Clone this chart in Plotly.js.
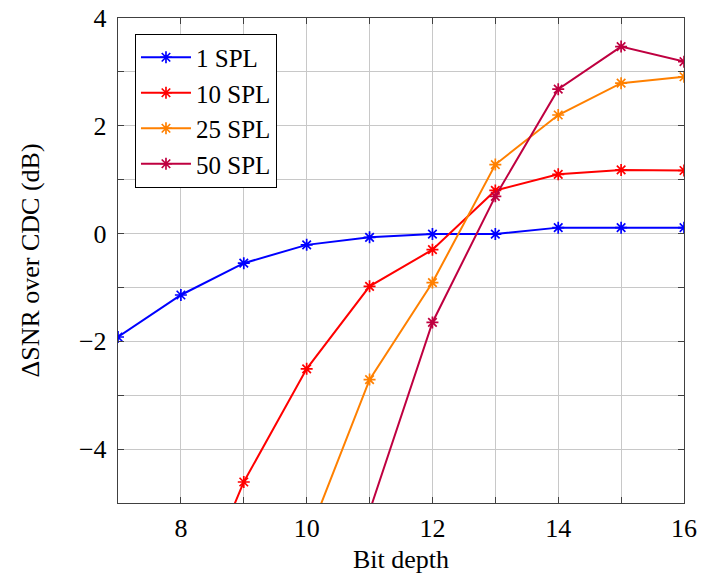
<!DOCTYPE html>
<html>
<head>
<meta charset="utf-8">
<script src="https://cdn.plot.ly/plotly-3.0.1.min.js"></script>
<style>html,body{margin:0;padding:0;background:#fff;}#chart{width:710px;height:574px;}</style>
</head>
<body>
<div id="chart"></div>
<script>
// Data
const seriesNames = ["1 SPL", "10 SPL", "25 SPL", "50 SPL"];
const seriesColors = ["#0000ff", "#ff0000", "#ff8000", "#bf0040"];

const bits1 = [7, 8, 9, 10, 11, 12, 13, 14, 15, 16];
const snr1 = [-1.92, -1.14, -0.55, -0.21, -0.07, -0.01, -0.01, 0.11, 0.11, 0.11];

const bits10 = [8, 9, 10, 11, 12, 13, 14, 15, 16];
const snr10 = [-7.4, -4.61, -2.51, -0.98, -0.30, 0.80, 1.10, 1.18, 1.17];

const bits25 = [10, 11, 12, 13, 14, 15, 16];
const snr25 = [-5.7, -2.71, -0.91, 1.28, 2.20, 2.79, 2.91];

const bits50 = [11, 12, 13, 14, 15, 16];
const snr50 = [-5.15, -1.65, 0.69, 2.68, 3.47, 3.19];

const xTickVals = [8, 10, 12, 14, 16];
const yTickVals = [-4, -2, 0, 2, 4];

const xs = [bits1, bits10, bits25, bits50];
const ys = [snr1, snr10, snr25, snr50];

const FONT = '"Liberation Serif", "Times New Roman", serif';

const traces = seriesNames.map((name, i) => ({
  type: "scatter",
  mode: "lines+markers",
  name: name,
  x: xs[i],
  y: ys[i],
  line: {color: seriesColors[i], width: 2},
  marker: {symbol: "asterisk-open", size: 10, color: seriesColors[i],
           line: {color: seriesColors[i], width: 1.7}},
  cliponaxis: true
}));

const axisCommon = {
  showline: true,
  mirror: "ticks",
  linecolor: "#404040",
  linewidth: 1.2,
  ticks: "inside",
  ticklen: 6,
  tickcolor: "#404040",
  tickwidth: 1,
  showgrid: true,
  gridcolor: "#c8c8c8",
  gridwidth: 1,
  zeroline: false,
  tickfont: {family: FONT, size: 26, color: "#000"},
  minor: {dtick: 1, ticks: "inside", ticklen: 6, tickcolor: "#404040", showgrid: true, gridcolor: "#c8c8c8", gridwidth: 1}
};

const layout = {
  width: 710,
  height: 574,
  margin: {l: 118, r: 26, t: 18, b: 71},
  paper_bgcolor: "#fff",
  plot_bgcolor: "#fff",
  font: {family: FONT, color: "#000", size: 26},
  showlegend: true,
  legend: {
    x: 0.030, y: 0.968, xanchor: "left", yanchor: "top",
    bgcolor: "#fff", bordercolor: "#000", borderwidth: 1,
    itemwidth: 50,
    font: {family: FONT, size: 25, color: "#000"}
  },
  xaxis: Object.assign({}, axisCommon, {
    range: [7, 16],
    tickmode: "array",
    tickvals: xTickVals,
    ticktext: xTickVals.map(String),
    ticklabelstandoff: 2,
    title: {text: "Bit depth", font: {family: FONT, size: 26}, standoff: 12}
  }),
  yaxis: Object.assign({}, axisCommon, {
    range: [-5, 4],
    tickmode: "array",
    tickvals: yTickVals,
    ticklabelstandoff: 5,
    title: {text: "ΔSNR over CDC (dB)", font: {family: FONT, size: 26}, standoff: 31}
  })
};

Plotly.newPlot("chart", traces, layout, {displayModeBar: false, staticPlot: true});
</script>
</body>
</html>
